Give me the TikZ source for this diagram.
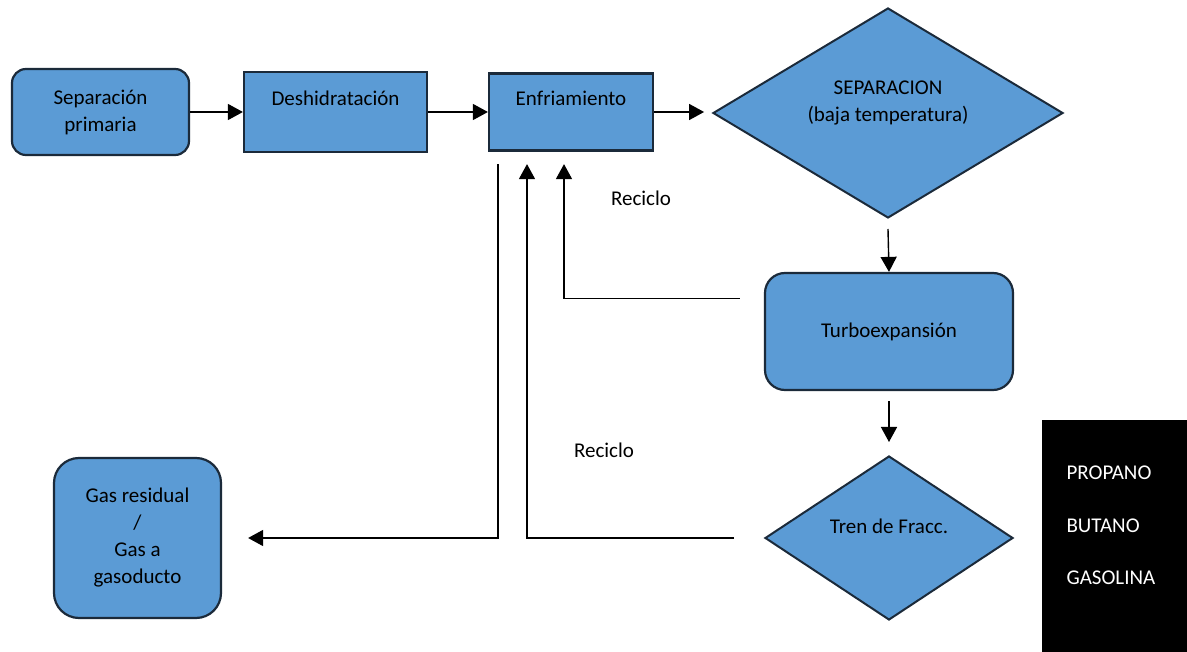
\documentclass[tikz,border=0pt]{standalone}
\usepackage{fontspec}
\setmainfont{Carlito}
\usetikzlibrary{arrows.meta,calc,shapes.geometric}
\definecolor{boxblue}{HTML}{5B9BD5}
\definecolor{boxline}{HTML}{1B2A3A}

\begin{document}
\begin{tikzpicture}[x=1pt,y=-1pt,
  every node/.style={font=\fontsize{21}{27}\selectfont},
  procbox/.style={draw=boxline,line width=2.2pt,fill=boxblue,inner sep=0pt,align=center},
  decision/.style={diamond,draw=boxline,line width=2pt,fill=boxblue,inner sep=0pt},
  flow/.style={line width=1.4pt,-{Triangle[length=15pt,width=16pt]}}]
  \useasboundingbox (0,0) rectangle (1187,652);

  % process boxes
  \node[procbox,rounded corners=14pt,minimum width=177pt,minimum height=86pt] (sep) at (100.5,112) {Separación\\primaria};
  \node[procbox,minimum width=183pt,minimum height=80pt] (dehy) at (335.5,112) {Deshidratación\\ };
  \node[procbox,minimum width=164pt,minimum height=77pt] (cool) at (571,112) {Enfriamiento\\ };
  \node[decision,minimum width=350pt,minimum height=210pt] (sepcold) at (888,113) {};
  \node (sepcoldtxt) at (888,103) [align=center] {SEPARACION\\(baja temperatura)};
  \node[procbox,rounded corners=20pt,minimum width=248pt,minimum height=117pt] (turbo) at (889,331.5) {Turboexpansión};
  \node[decision,minimum width=248pt,minimum height=164pt] (fracc) at (889,538) {};
  \node (fracctxt) at (889,526) {Tren de Fracc.};
  \node[procbox,rounded corners=25pt,minimum width=167pt,minimum height=160pt] (gas) at (137.5,538) {Gas residual\\/\\Gas a\\gasoducto};

  % products
  \node[fill=black,inner sep=0pt,minimum width=145pt,minimum height=232pt,anchor=north west] (prod) at (1042,420) {};
  \foreach \p [count=\i from 0] in {PROPANO,BUTANO,GASOLINA}{%
    \node[text=white,anchor=west] (prod\i) at (1063,{473+\i*52.5}) {\p};
  }

  \node (rec1) at (641,198) {Reciclo};
  \node (rec2) at (604,450) {Reciclo};

  \coordinate (recAin) at ($(turbo.west)+(-24,-33)$);
  \coordinate (recAout) at ($(cool.south)+(-7,12.5)$);
  \coordinate (recBin) at ($(fracc.west)+(-30,0)$);
  \coordinate (recBout) at ($(cool.south)+(-44,12.5)$);
  \coordinate (gasin) at ($(cool.south)+(-73,12.5)$);
  \coordinate (gasout) at ($(gas.east)+(26,0)$);

  \draw[flow] (sep.east) -- (dehy.west);
  \draw[flow] (dehy.east) -- (cool.west);
  \draw[flow] (cool.east) -- ($(cool.east)+(50,0)$);
  \draw[flow] ($(sepcold.south)+(0,10)$) -- (turbo.north);
  \draw[flow] ($(turbo.south)+(0,10)$) -- ($(fracc.north)+(0,-13)$);
  \draw[flow] (recAin) -| (recAout);
  \draw[flow] (recBin) -| (recBout);
  \draw[flow] (gasin) |- (gasout);
\end{tikzpicture}
\end{document}
